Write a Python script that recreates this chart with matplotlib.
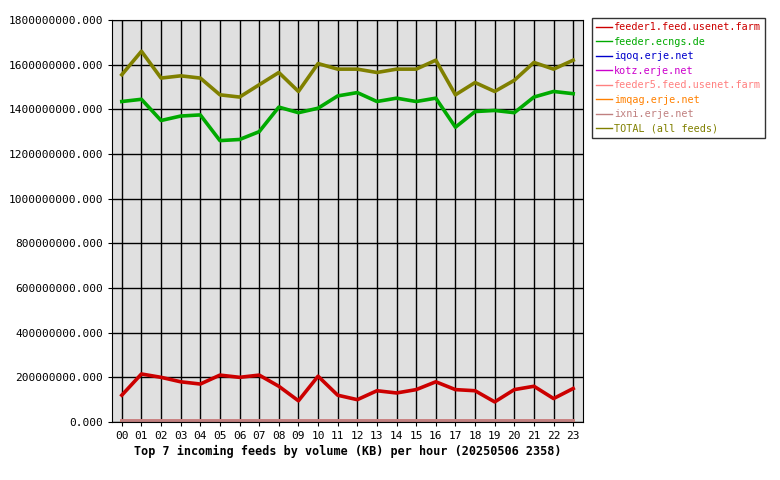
import matplotlib
matplotlib.use("Agg")
import matplotlib.pyplot as plt
from matplotlib.ticker import FuncFormatter

hours = ["%02d" % h for h in range(24)]

feeder1 = [1.20, 2.15, 2.00, 1.80, 1.70, 2.10, 2.00, 2.10, 1.60, 0.95, 2.05, 1.20,
           1.00, 1.40, 1.30, 1.45, 1.80, 1.45, 1.40, 0.90, 1.45, 1.60, 1.05, 1.50]
ecngs = [14.35, 14.45, 13.50, 13.70, 13.75, 12.60, 12.65, 13.00, 14.10, 13.85, 14.05, 14.60,
         14.75, 14.35, 14.50, 14.35, 14.50, 13.20, 13.90, 13.95, 13.85, 14.55, 14.80, 14.70]
iqoq = [0.02] * 24
kotz = [0.02] * 24
feeder5 = [0.03] * 24
imqag = [0.02] * 24
ixni = [0.04] * 24
total = [15.55, 16.60, 15.40, 15.50, 15.40, 14.65, 14.55, 15.10, 15.65, 14.80, 16.05, 15.80,
         15.80, 15.65, 15.80, 15.80, 16.20, 14.65, 15.20, 14.80, 15.30, 16.10, 15.80, 16.20]

series = [
    ("feeder1.feed.usenet.farm", feeder1, "#cc0000"),
    ("feeder.ecngs.de", ecngs, "#00aa00"),
    ("iqoq.erje.net", iqoq, "#0000cc"),
    ("kotz.erje.net", kotz, "#cc00cc"),
    ("feeder5.feed.usenet.farm", feeder5, "#ff8080"),
    ("imqag.erje.net", imqag, "#ff8000"),
    ("ixni.erje.net", ixni, "#c08080"),
    ("TOTAL (all feeds)", total, "#808000"),
]

plt.rcParams["font.family"] = "DejaVu Sans Mono"
fig = plt.figure(figsize=(7.8, 4.8), dpi=100)
ax = fig.add_axes([112 / 780, 58 / 480, 471 / 780, 402 / 480])
ax.set_facecolor("#e0e0e0")

x = list(range(24))
for label, vals, color in series:
    ax.plot(x, [v * 1e8 for v in vals], color=color, linewidth=2.6, label=label)

ax.set_xlim(-0.5, 23.5)
ax.set_ylim(0, 1.8e9)
ax.set_xticks(x)
ax.set_xticklabels(hours, fontsize=8)
ax.set_yticks([i * 2e8 for i in range(10)])
ax.yaxis.set_major_formatter(FuncFormatter(lambda v, p: "%d.000" % v))
ax.tick_params(labelsize=8, length=3)
ax.grid(True, color="black", linewidth=1)
ax.set_axisbelow(True)
ax.set_xlabel("Top 7 incoming feeds by volume (KB) per hour (20250506 2358)",
              fontsize=8.5, fontweight="bold", labelpad=3)

leg = fig.legend(loc="upper left", bbox_to_anchor=(592 / 780, 1 - 18 / 480),
                 fontsize=7.3, frameon=True, fancybox=False, edgecolor="black",
                 handlelength=1.6, handletextpad=0.2, labelspacing=0.45, borderpad=0.4,
                 borderaxespad=0)
for text, (_, _, color) in zip(leg.get_texts(), series):
    text.set_color(color)
for line in leg.get_lines():
    line.set_linewidth(1)

fig.savefig("out.png", dpi=100)
